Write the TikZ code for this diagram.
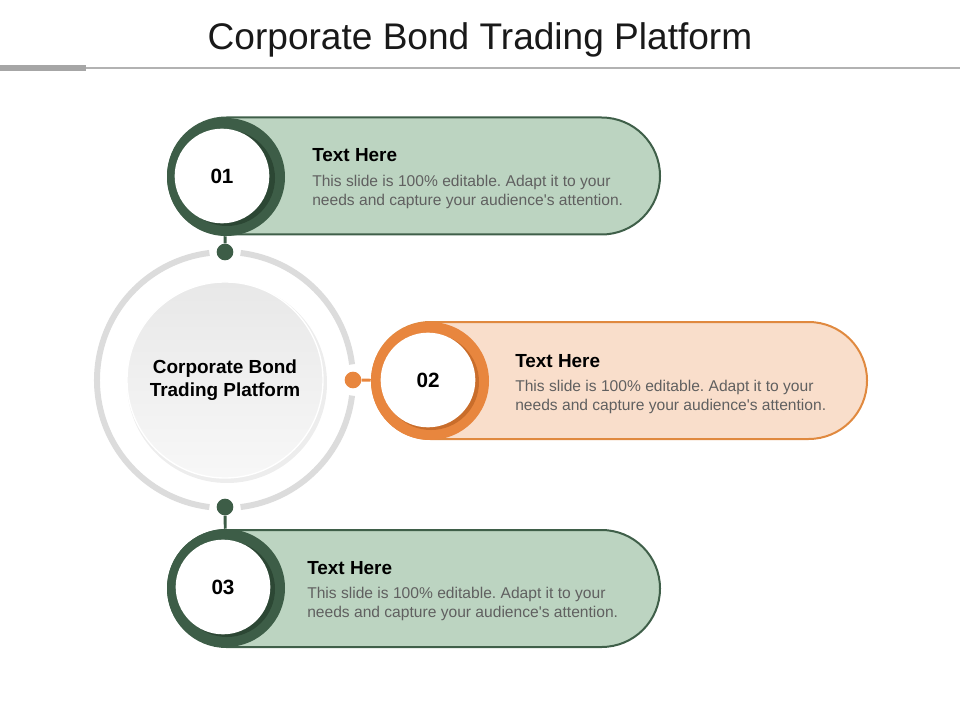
\documentclass[tikz,border=0pt]{standalone}
\usepackage{fontspec}
\setmainfont{Liberation Sans}[Ligatures=TeXOff]
\frenchspacing
\definecolor{gring}{HTML}{3D5D47}
\definecolor{gshadow}{HTML}{2C4734}
\definecolor{gfill}{HTML}{BCD4C1}
\definecolor{gstroke}{HTML}{3F5F49}
\definecolor{oring}{HTML}{E8863E}
\definecolor{oshadow}{HTML}{C96D2B}
\definecolor{ofill}{HTML}{F9DECB}
\definecolor{ostroke}{HTML}{E0893F}
\definecolor{hubring}{HTML}{DCDCDC}
\definecolor{bodytxt}{HTML}{606060}
\begin{document}
\begin{tikzpicture}[x=0.75pt,y=-0.75pt,
  pillg/.style={draw=gstroke, line width=1.5pt, fill=gfill, rounded corners=43.8pt},
  pillo/.style={draw=ostroke, line width=1.5pt, fill=ofill, rounded corners=43.8pt},
  outer/.style={circle, inner sep=0pt, minimum size=88.5pt},
  inner/.style={circle, inner sep=0pt, minimum size=71pt, fill=white, font=\fontsize{15.5}{18}\selectfont\bfseries},
  shad/.style={circle, inner sep=0pt, minimum size=72pt},
  dot/.style={circle, inner sep=0pt, minimum size=12.5pt},
  head/.style={anchor=base west, inner sep=0pt, font=\fontsize{14.2}{16}\selectfont\bfseries},
  body/.style={anchor=base west, inner sep=0pt, text=bodytxt, font=\fontsize{11.7}{14}\selectfont},
  conn/.style={line width=2.2pt}
]
\useasboundingbox (0,0) rectangle (960,720);

% title and rule
\node[font=\fontsize{27.8}{32}\selectfont, text=black!90] (title) at (480,39.5) {Corporate Bond Trading Platform};
\coordinate (r0) at (0,68);
\coordinate (r1) at (960,68);
\draw[black!30, line width=0.9pt] (r0) -- (r1);
\fill[black!35] (0,65) rectangle (86,71.5);

% hub ring with gaps
\draw[hubring, line width=4.5pt] (225,380) ++(7:128) arc (7:83:128);
\draw[hubring, line width=4.5pt] (225,380) ++(97:128) arc (97:263:128);
\draw[hubring, line width=4.5pt] (225,380) ++(277:128) arc (277:353:128);

% hub
\node[circle, inner sep=0pt, minimum size=150pt, fill=black!7] (hubsh) at (227,383) {};
\node[circle, inner sep=0pt, minimum size=147pt, top color=black!9, bottom color=black!3, draw=white, line width=1pt,
      align=center, font=\fontsize{14.2}{17.5}\selectfont\bfseries] (hub) at (225,380) {Corporate Bond\\Trading Platform};

% pills
\draw[pillg] (168,117.5) rectangle (660,234.5);
\draw[pillo] (372,322) rectangle (867,439);
\draw[pillg] (168,530) rectangle (660,647);

% numbered circles
\node[outer, fill=gring] (c1o) at (226,177) {};
\node[shad, fill=gshadow] (c1s) at (227,178) {};
\node[inner] (c1) at (222,176) {01};

\node[outer, fill=oring] (c2o) at (430,381) {};
\node[shad, fill=oshadow] (c2s) at (431,382) {};
\node[inner] (c2) at (428,380) {02};

\node[outer, fill=gring] (c3o) at (226,588) {};
\node[shad, fill=gshadow] (c3s) at (227,589) {};
\node[inner] (c3) at (223,587) {03};

% dots and connectors
\node[dot, fill=gring] (d1) at (225,252) {};
\node[dot, fill=oring] (d2) at (353,380) {};
\node[dot, fill=gring] (d3) at (225,507) {};
\draw[conn, gring] (d1) -- (c1o);
\draw[conn, oring] (d2) -- (c2o);
\draw[conn, gring] (d3) -- (c3o);

% texts
\node[head] (h1) at (312,162) {Text Here};
\node[body] (b1a) at (312,187) {This slide is 100\% editable. Adapt it to your};
\node[body] (b1b) at (312,206) {needs and capture your audience's attention.};

\node[head] (h2) at (515,367) {Text Here};
\node[body] (b2a) at (515,391) {This slide is 100\% editable. Adapt it to your};
\node[body] (b2b) at (515,410) {needs and capture your audience's attention.};

\node[head] (h3) at (307,574) {Text Here};
\node[body] (b3a) at (307,598) {This slide is 100\% editable. Adapt it to your};
\node[body] (b3b) at (307,617) {needs and capture your audience's attention.};
\end{tikzpicture}
\end{document}
